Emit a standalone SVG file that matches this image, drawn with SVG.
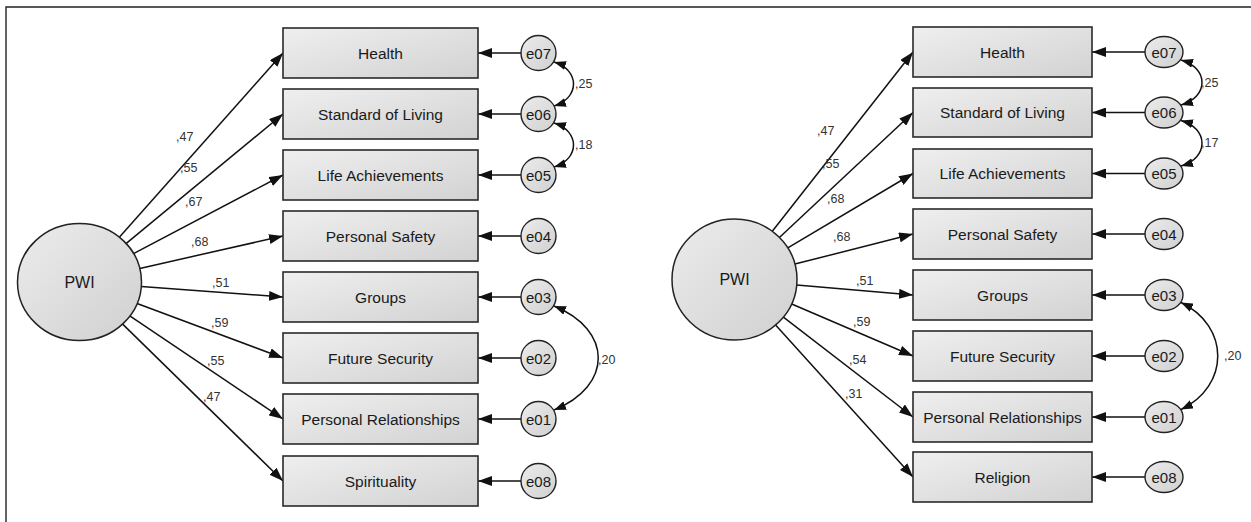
<svg xmlns="http://www.w3.org/2000/svg" width="1251" height="522" viewBox="0 0 1251 522">
<defs>
  <linearGradient id="gbox" x1="0" y1="0" x2="1" y2="1">
    <stop offset="0" stop-color="#efefef"/>
    <stop offset="1" stop-color="#d2d2d2"/>
  </linearGradient>
  <linearGradient id="gell" x1="0" y1="0" x2="1" y2="1">
    <stop offset="0" stop-color="#ececec"/>
    <stop offset="1" stop-color="#d0d0d0"/>
  </linearGradient>
  <marker id="ah" markerUnits="userSpaceOnUse" viewBox="0 0 14 10" refX="14" refY="5" markerWidth="14" markerHeight="10" orient="auto">
    <path d="M0,0 L14,5 L0,10 Z" fill="#111"/>
  </marker>
  <marker id="ac" markerUnits="userSpaceOnUse" viewBox="0 0 12 9" refX="12" refY="4.5" markerWidth="12" markerHeight="9" orient="auto-start-reverse">
    <path d="M0,0 L12,4.5 L0,9 Z" fill="#111"/>
  </marker>
</defs>
<style>
  .box { fill: url(#gbox); stroke: #2a2a2a; stroke-width: 1.6; }
  .lat { fill: url(#gell); stroke: #222; stroke-width: 1.5; }
  .err { fill: url(#gell); stroke: #222; stroke-width: 1.4; }
  .lbl { font-family: "Liberation Sans", Arial, sans-serif; font-size: 15.5px; fill: #1a1a1a; text-anchor: middle; }
  .elbl { font-family: "Liberation Sans", Arial, sans-serif; font-size: 15px; fill: #1a1a1a; text-anchor: middle; }
  .coef { font-family: "Liberation Sans", Arial, sans-serif; font-size: 12.5px; fill: #333; }
  .arr { stroke: #111; stroke-width: 1.5; fill: none; marker-end: url(#ah); }
  .cov { stroke: #111; stroke-width: 1.5; fill: none; marker-start: url(#ac); marker-end: url(#ac); }
  .frame { stroke: #222; stroke-width: 1.4; fill: none; }
</style>
<rect x="0" y="0" width="1251" height="522" fill="#ffffff"/>
<path class="frame" d="M6,522 L6,7 L1251,7"/>

<g id="connectors">
  <!-- left panel: PWI to indicators -->
  <line class="arr" x1="119.1" y1="237.4" x2="283" y2="53"/>
  <line class="arr" x1="126" y1="243.6" x2="283" y2="114"/>
  <line class="arr" x1="133.5" y1="253.6" x2="283" y2="175"/>
  <line class="arr" x1="139.8" y1="268.4" x2="283" y2="236"/>
  <line class="arr" x1="141.3" y1="286.6" x2="283" y2="297"/>
  <line class="arr" x1="137.1" y1="303.5" x2="283" y2="358"/>
  <line class="arr" x1="129.8" y1="315.9" x2="283" y2="419"/>
  <line class="arr" x1="122.4" y1="323.9" x2="283" y2="481"/>
  <!-- left panel: errors to indicators -->
  <line class="arr" x1="521" y1="53" x2="478" y2="53"/>
  <line class="arr" x1="521" y1="114" x2="478" y2="114"/>
  <line class="arr" x1="521" y1="175" x2="478" y2="175"/>
  <line class="arr" x1="521" y1="236" x2="478" y2="236"/>
  <line class="arr" x1="521" y1="297" x2="478" y2="297"/>
  <line class="arr" x1="521" y1="358" x2="478" y2="358"/>
  <line class="arr" x1="521" y1="419" x2="478" y2="419"/>
  <line class="arr" x1="521" y1="481" x2="478" y2="481"/>
  <!-- left covariances -->
  <path class="cov" d="M554,62 C580,70 580,98 554,106"/>
  <path class="cov" d="M554,123 C580,131 580,159 554,167"/>
  <path class="cov" d="M554,306 C613,330 613,386 554,410"/>

  <!-- right panel: PWI to indicators -->
  <line class="arr" x1="772.3" y1="231.3" x2="913" y2="52"/>
  <line class="arr" x1="779.4" y1="237.5" x2="913" y2="112.5"/>
  <line class="arr" x1="787.8" y1="247.9" x2="913" y2="173.5"/>
  <line class="arr" x1="794.9" y1="264.1" x2="913" y2="234"/>
  <line class="arr" x1="796.7" y1="284.9" x2="913" y2="295"/>
  <line class="arr" x1="791.7" y1="304" x2="913" y2="356"/>
  <line class="arr" x1="783.4" y1="317.2" x2="913" y2="417"/>
  <line class="arr" x1="775.6" y1="325" x2="913" y2="477"/>
  <!-- right panel: errors to indicators -->
  <line class="arr" x1="1145" y1="52" x2="1092" y2="52"/>
  <line class="arr" x1="1145" y1="112.5" x2="1092" y2="112.5"/>
  <line class="arr" x1="1145" y1="173.5" x2="1092" y2="173.5"/>
  <line class="arr" x1="1145" y1="234" x2="1092" y2="234"/>
  <line class="arr" x1="1145" y1="295" x2="1092" y2="295"/>
  <line class="arr" x1="1145" y1="356" x2="1092" y2="356"/>
  <line class="arr" x1="1145" y1="417" x2="1092" y2="417"/>
  <line class="arr" x1="1145" y1="477" x2="1092" y2="477"/>
  <!-- right covariances -->
  <path class="cov" d="M1181,60 C1209,68 1209,97 1181,105"/>
  <path class="cov" d="M1181,120.5 C1209,128.5 1209,158 1181,166"/>
  <path class="cov" d="M1181,302.5 C1230,326 1230,386 1181,409.5"/>

  <!-- coefficient labels left -->
  <text class="coef" x="176" y="141">,47</text>
  <text class="coef" x="180" y="172">,55</text>
  <text class="coef" x="185" y="206">,67</text>
  <text class="coef" x="191" y="246">,68</text>
  <text class="coef" x="212" y="287">,51</text>
  <text class="coef" x="211" y="327">,59</text>
  <text class="coef" x="207" y="365">,55</text>
  <text class="coef" x="203" y="401">,47</text>
  <text class="coef" x="575" y="88">,25</text>
  <text class="coef" x="575" y="149">,18</text>
  <text class="coef" x="598" y="364">,20</text>
  <!-- coefficient labels right -->
  <text class="coef" x="817" y="135">,47</text>
  <text class="coef" x="822" y="168">,55</text>
  <text class="coef" x="827" y="203">,68</text>
  <text class="coef" x="833" y="241">,68</text>
  <text class="coef" x="856" y="285">,51</text>
  <text class="coef" x="853" y="326">,59</text>
  <text class="coef" x="849" y="364">,54</text>
  <text class="coef" x="845" y="398">,31</text>
  <text class="coef" x="1201" y="87">,25</text>
  <text class="coef" x="1201" y="147">,17</text>
  <text class="coef" x="1224" y="360">,20</text>
</g>

<!-- left panel nodes -->
<g id="L_PWI"><ellipse class="lat" cx="79.5" cy="282" rx="62" ry="58.5"/><text class="lbl" x="79.5" y="287.5" style="font-size:16px">PWI</text></g>
<g id="L_Health"><rect class="box" x="283" y="28" width="195" height="50"/><text class="lbl" x="380.5" y="58.5">Health</text></g>
<g id="L_Standard"><rect class="box" x="283" y="89" width="195" height="50"/><text class="lbl" x="380.5" y="119.5">Standard of Living</text></g>
<g id="L_Life"><rect class="box" x="283" y="150" width="195" height="50"/><text class="lbl" x="380.5" y="180.5">Life Achievements</text></g>
<g id="L_Safety"><rect class="box" x="283" y="211" width="195" height="50"/><text class="lbl" x="380.5" y="241.5">Personal Safety</text></g>
<g id="L_Groups"><rect class="box" x="283" y="272" width="195" height="50"/><text class="lbl" x="380.5" y="302.5">Groups</text></g>
<g id="L_Future"><rect class="box" x="283" y="333" width="195" height="50"/><text class="lbl" x="380.5" y="363.5">Future Security</text></g>
<g id="L_Relations"><rect class="box" x="283" y="394" width="195" height="50"/><text class="lbl" x="380.5" y="424.5">Personal Relationships</text></g>
<g id="L_Spirit"><rect class="box" x="283" y="456" width="195" height="50"/><text class="lbl" x="380.5" y="486.5">Spirituality</text></g>
<g id="L_e07"><circle class="err" cx="538.5" cy="53" r="17.5"/><text class="elbl" x="538.5" y="58.5">e07</text></g>
<g id="L_e06"><circle class="err" cx="538.5" cy="114" r="17.5"/><text class="elbl" x="538.5" y="119.5">e06</text></g>
<g id="L_e05"><circle class="err" cx="538.5" cy="175" r="17.5"/><text class="elbl" x="538.5" y="180.5">e05</text></g>
<g id="L_e04"><circle class="err" cx="538.5" cy="236" r="17.5"/><text class="elbl" x="538.5" y="241.5">e04</text></g>
<g id="L_e03"><circle class="err" cx="538.5" cy="297" r="17.5"/><text class="elbl" x="538.5" y="302.5">e03</text></g>
<g id="L_e02"><circle class="err" cx="538.5" cy="358" r="17.5"/><text class="elbl" x="538.5" y="363.5">e02</text></g>
<g id="L_e01"><circle class="err" cx="538.5" cy="419" r="17.5"/><text class="elbl" x="538.5" y="424.5">e01</text></g>
<g id="L_e08"><circle class="err" cx="538.5" cy="481" r="17.5"/><text class="elbl" x="538.5" y="486.5">e08</text></g>

<!-- right panel nodes -->
<g id="R_PWI"><ellipse class="lat" cx="734.5" cy="279.5" rx="62.5" ry="60.5"/><text class="lbl" x="734.5" y="285" style="font-size:16px">PWI</text></g>
<g id="R_Health"><rect class="box" x="913" y="27" width="179" height="50"/><text class="lbl" x="1002.5" y="57.5">Health</text></g>
<g id="R_Standard"><rect class="box" x="913" y="88" width="179" height="49"/><text class="lbl" x="1002.5" y="118">Standard of Living</text></g>
<g id="R_Life"><rect class="box" x="913" y="149" width="179" height="49"/><text class="lbl" x="1002.5" y="179">Life Achievements</text></g>
<g id="R_Safety"><rect class="box" x="913" y="209" width="179" height="50"/><text class="lbl" x="1002.5" y="239.5">Personal Safety</text></g>
<g id="R_Groups"><rect class="box" x="913" y="270" width="179" height="50"/><text class="lbl" x="1002.5" y="300.5">Groups</text></g>
<g id="R_Future"><rect class="box" x="913" y="331" width="179" height="50"/><text class="lbl" x="1002.5" y="361.5">Future Security</text></g>
<g id="R_Relations"><rect class="box" x="913" y="392" width="179" height="50"/><text class="lbl" x="1002.5" y="422.5">Personal Relationships</text></g>
<g id="R_Religion"><rect class="box" x="913" y="452" width="179" height="50"/><text class="lbl" x="1002.5" y="482.5">Religion</text></g>
<g id="R_e07"><ellipse class="err" cx="1164" cy="52" rx="19" ry="15.5"/><text class="elbl" x="1164" y="57.5">e07</text></g>
<g id="R_e06"><ellipse class="err" cx="1164" cy="112.5" rx="19" ry="15.5"/><text class="elbl" x="1164" y="118">e06</text></g>
<g id="R_e05"><ellipse class="err" cx="1164" cy="173.5" rx="19" ry="15.5"/><text class="elbl" x="1164" y="179">e05</text></g>
<g id="R_e04"><ellipse class="err" cx="1164" cy="234" rx="19" ry="15.5"/><text class="elbl" x="1164" y="239.5">e04</text></g>
<g id="R_e03"><ellipse class="err" cx="1164" cy="295" rx="19" ry="15.5"/><text class="elbl" x="1164" y="300.5">e03</text></g>
<g id="R_e02"><ellipse class="err" cx="1164" cy="356" rx="19" ry="15.5"/><text class="elbl" x="1164" y="361.5">e02</text></g>
<g id="R_e01"><ellipse class="err" cx="1164" cy="417" rx="19" ry="15.5"/><text class="elbl" x="1164" y="422.5">e01</text></g>
<g id="R_e08"><ellipse class="err" cx="1164" cy="477" rx="19" ry="15.5"/><text class="elbl" x="1164" y="482.5">e08</text></g>
</svg>
